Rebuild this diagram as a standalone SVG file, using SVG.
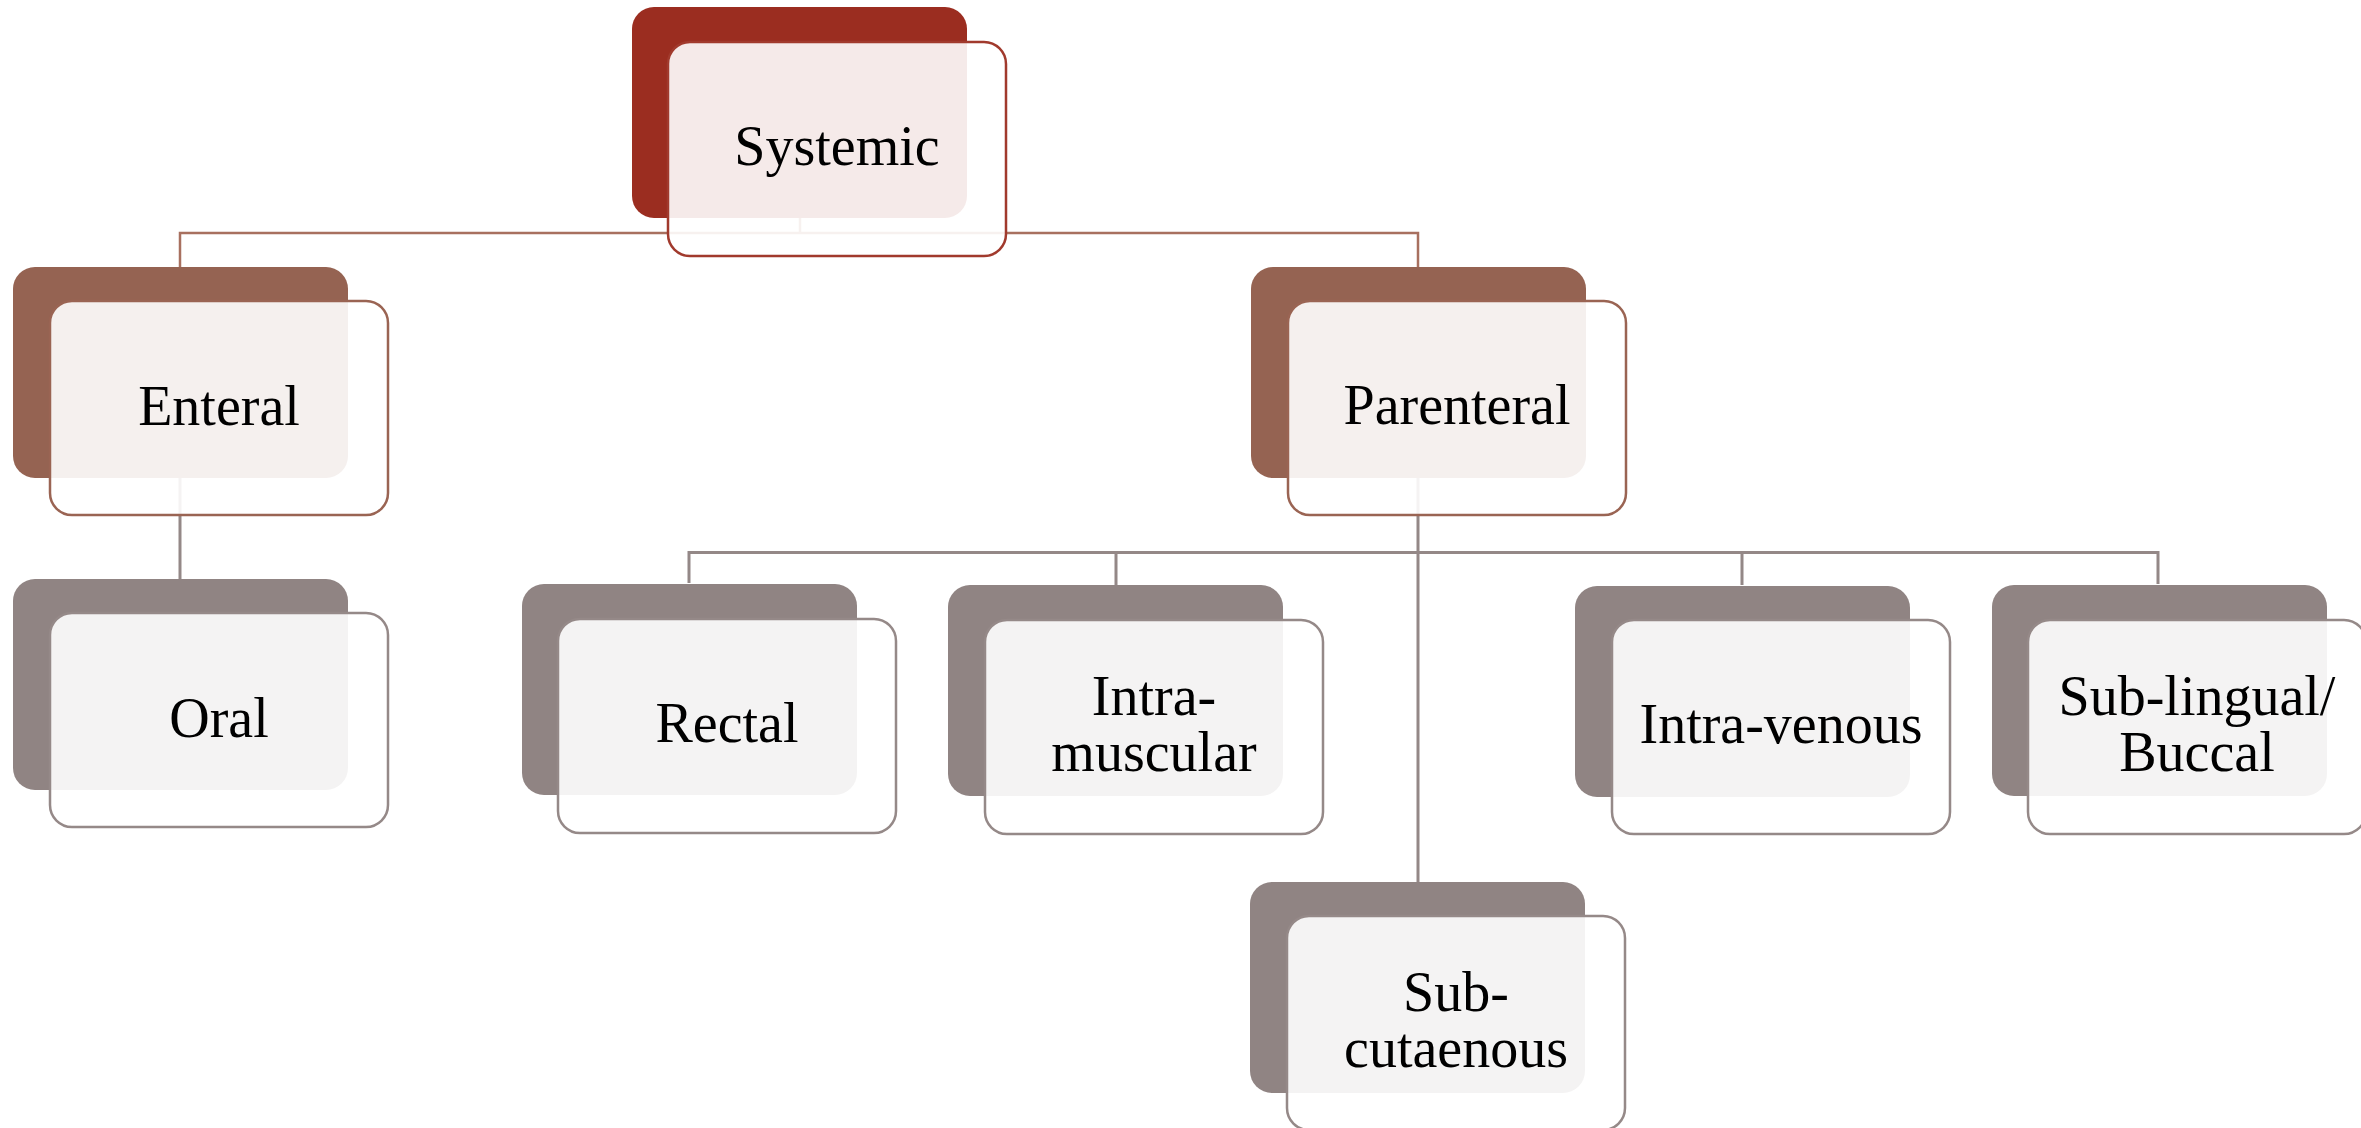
<svg xmlns="http://www.w3.org/2000/svg" width="2361" height="1128" viewBox="0 0 2361 1128">
<style>
  .bg{fill:#ffffff}
  .back{rx:22px;ry:22px}
  .front{fill:#ffffff;fill-opacity:0.9;stroke-width:2.5;rx:22px;ry:22px}
  .red .back{fill:#9B2D20}
  .red .front{stroke:#A13A2D}
  .brown .back{fill:#956352}
  .brown .front{stroke:#9A6453}
  .gray .back{fill:#908483}
  .gray .front{stroke:#958988}
  .lbl{font-family:"Liberation Serif","DejaVu Serif",serif;font-size:56px;fill:#000000;text-anchor:middle}
  .c1{fill:none;stroke:#A8705F;stroke-width:2.5}
  .c2{fill:none;stroke:#948887;stroke-width:3}
</style>
<rect class="bg" x="0" y="0" width="2361" height="1128"/>
<g id="connectors">
  <path class="c1" d="M800,218 V233 M180,267 V233 H1418 V267"/>
  <path class="c2" d="M180,478 V579"/>
  <path class="c2" d="M1418,478 V882 M689,583 V552.5 H2158 V584 M1116,552.5 V585 M1742,552.5 V585"/>
</g>
<g id="node-systemic" class="red">
  <rect class="back" x="632" y="7" width="335" height="211"/>
  <rect class="front" x="668" y="42" width="338" height="214"/>
  <text class="lbl" x="837" y="165">Systemic</text>
</g>
<g id="node-enteral" class="brown">
  <rect class="back" x="13" y="267" width="335" height="211"/>
  <rect class="front" x="50" y="301" width="338" height="214"/>
  <text class="lbl" x="219" y="425">Enteral</text>
</g>
<g id="node-parenteral" class="brown">
  <rect class="back" x="1251" y="267" width="335" height="211"/>
  <rect class="front" x="1288" y="301" width="338" height="214"/>
  <text class="lbl" x="1457" y="424">Parenteral</text>
</g>
<g id="node-oral" class="gray">
  <rect class="back" x="13" y="579" width="335" height="211"/>
  <rect class="front" x="50" y="613" width="338" height="214"/>
  <text class="lbl" x="219" y="737">Oral</text>
</g>
<g id="node-rectal" class="gray">
  <rect class="back" x="522" y="584" width="335" height="211"/>
  <rect class="front" x="558" y="619" width="338" height="214"/>
  <text class="lbl" x="727" y="742">Rectal</text>
</g>
<g id="node-intramuscular" class="gray">
  <rect class="back" x="948" y="585" width="335" height="211"/>
  <rect class="front" x="985" y="620" width="338" height="214"/>
  <text class="lbl" x="1154" y="715">Intra-</text>
  <text class="lbl" x="1154" y="771">muscular</text>
</g>
<g id="node-intravenous" class="gray">
  <rect class="back" x="1575" y="586" width="335" height="211"/>
  <rect class="front" x="1612" y="620" width="338" height="214"/>
  <text class="lbl" x="1781" y="743">Intra-venous</text>
</g>
<g id="node-sublingual" class="gray">
  <rect class="back" x="1992" y="585" width="335" height="211"/>
  <rect class="front" x="2028" y="620" width="338" height="214"/>
  <text class="lbl" x="2197" y="715">Sub-lingual/</text>
  <text class="lbl" x="2197" y="771">Buccal</text>
</g>
<g id="node-subcutaneous" class="gray">
  <rect class="back" x="1250" y="882" width="335" height="211"/>
  <rect class="front" x="1287" y="916" width="338" height="214"/>
  <text class="lbl" x="1456" y="1011">Sub-</text>
  <text class="lbl" x="1456" y="1067">cutaenous</text>
</g>
</svg>
